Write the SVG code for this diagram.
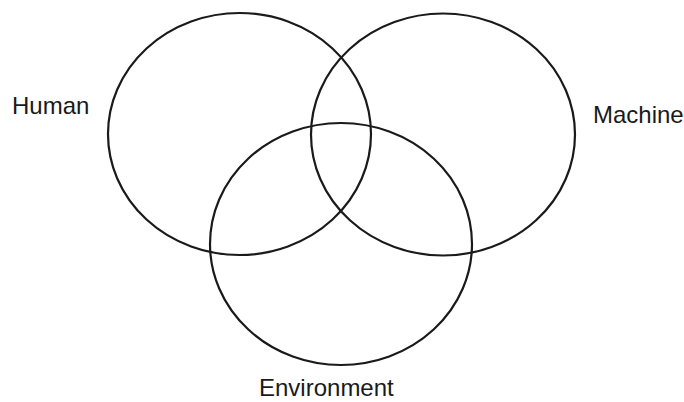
<svg xmlns="http://www.w3.org/2000/svg" width="684" height="402" viewBox="0 0 684 402">
<style>
.c{fill:none;stroke:#1a1a1a;stroke-width:2.2}
.t{font-family:"Liberation Sans",Arial,sans-serif;font-size:24px;fill:#1a1a1a}
</style>
<rect width="684" height="402" fill="#fff"/>
<g id="human"><ellipse class="c" cx="239.5" cy="134" rx="131.5" ry="121"/><text class="t" x="12" y="114">Human</text></g>
<g id="machine"><ellipse class="c" cx="443" cy="134.5" rx="132" ry="121"/><text class="t" x="593" y="123">Machine</text></g>
<g id="environment"><ellipse class="c" cx="341" cy="244" rx="131" ry="121"/><text class="t" x="259" y="396">Environment</text></g>
<g id="connectors"></g>
</svg>
